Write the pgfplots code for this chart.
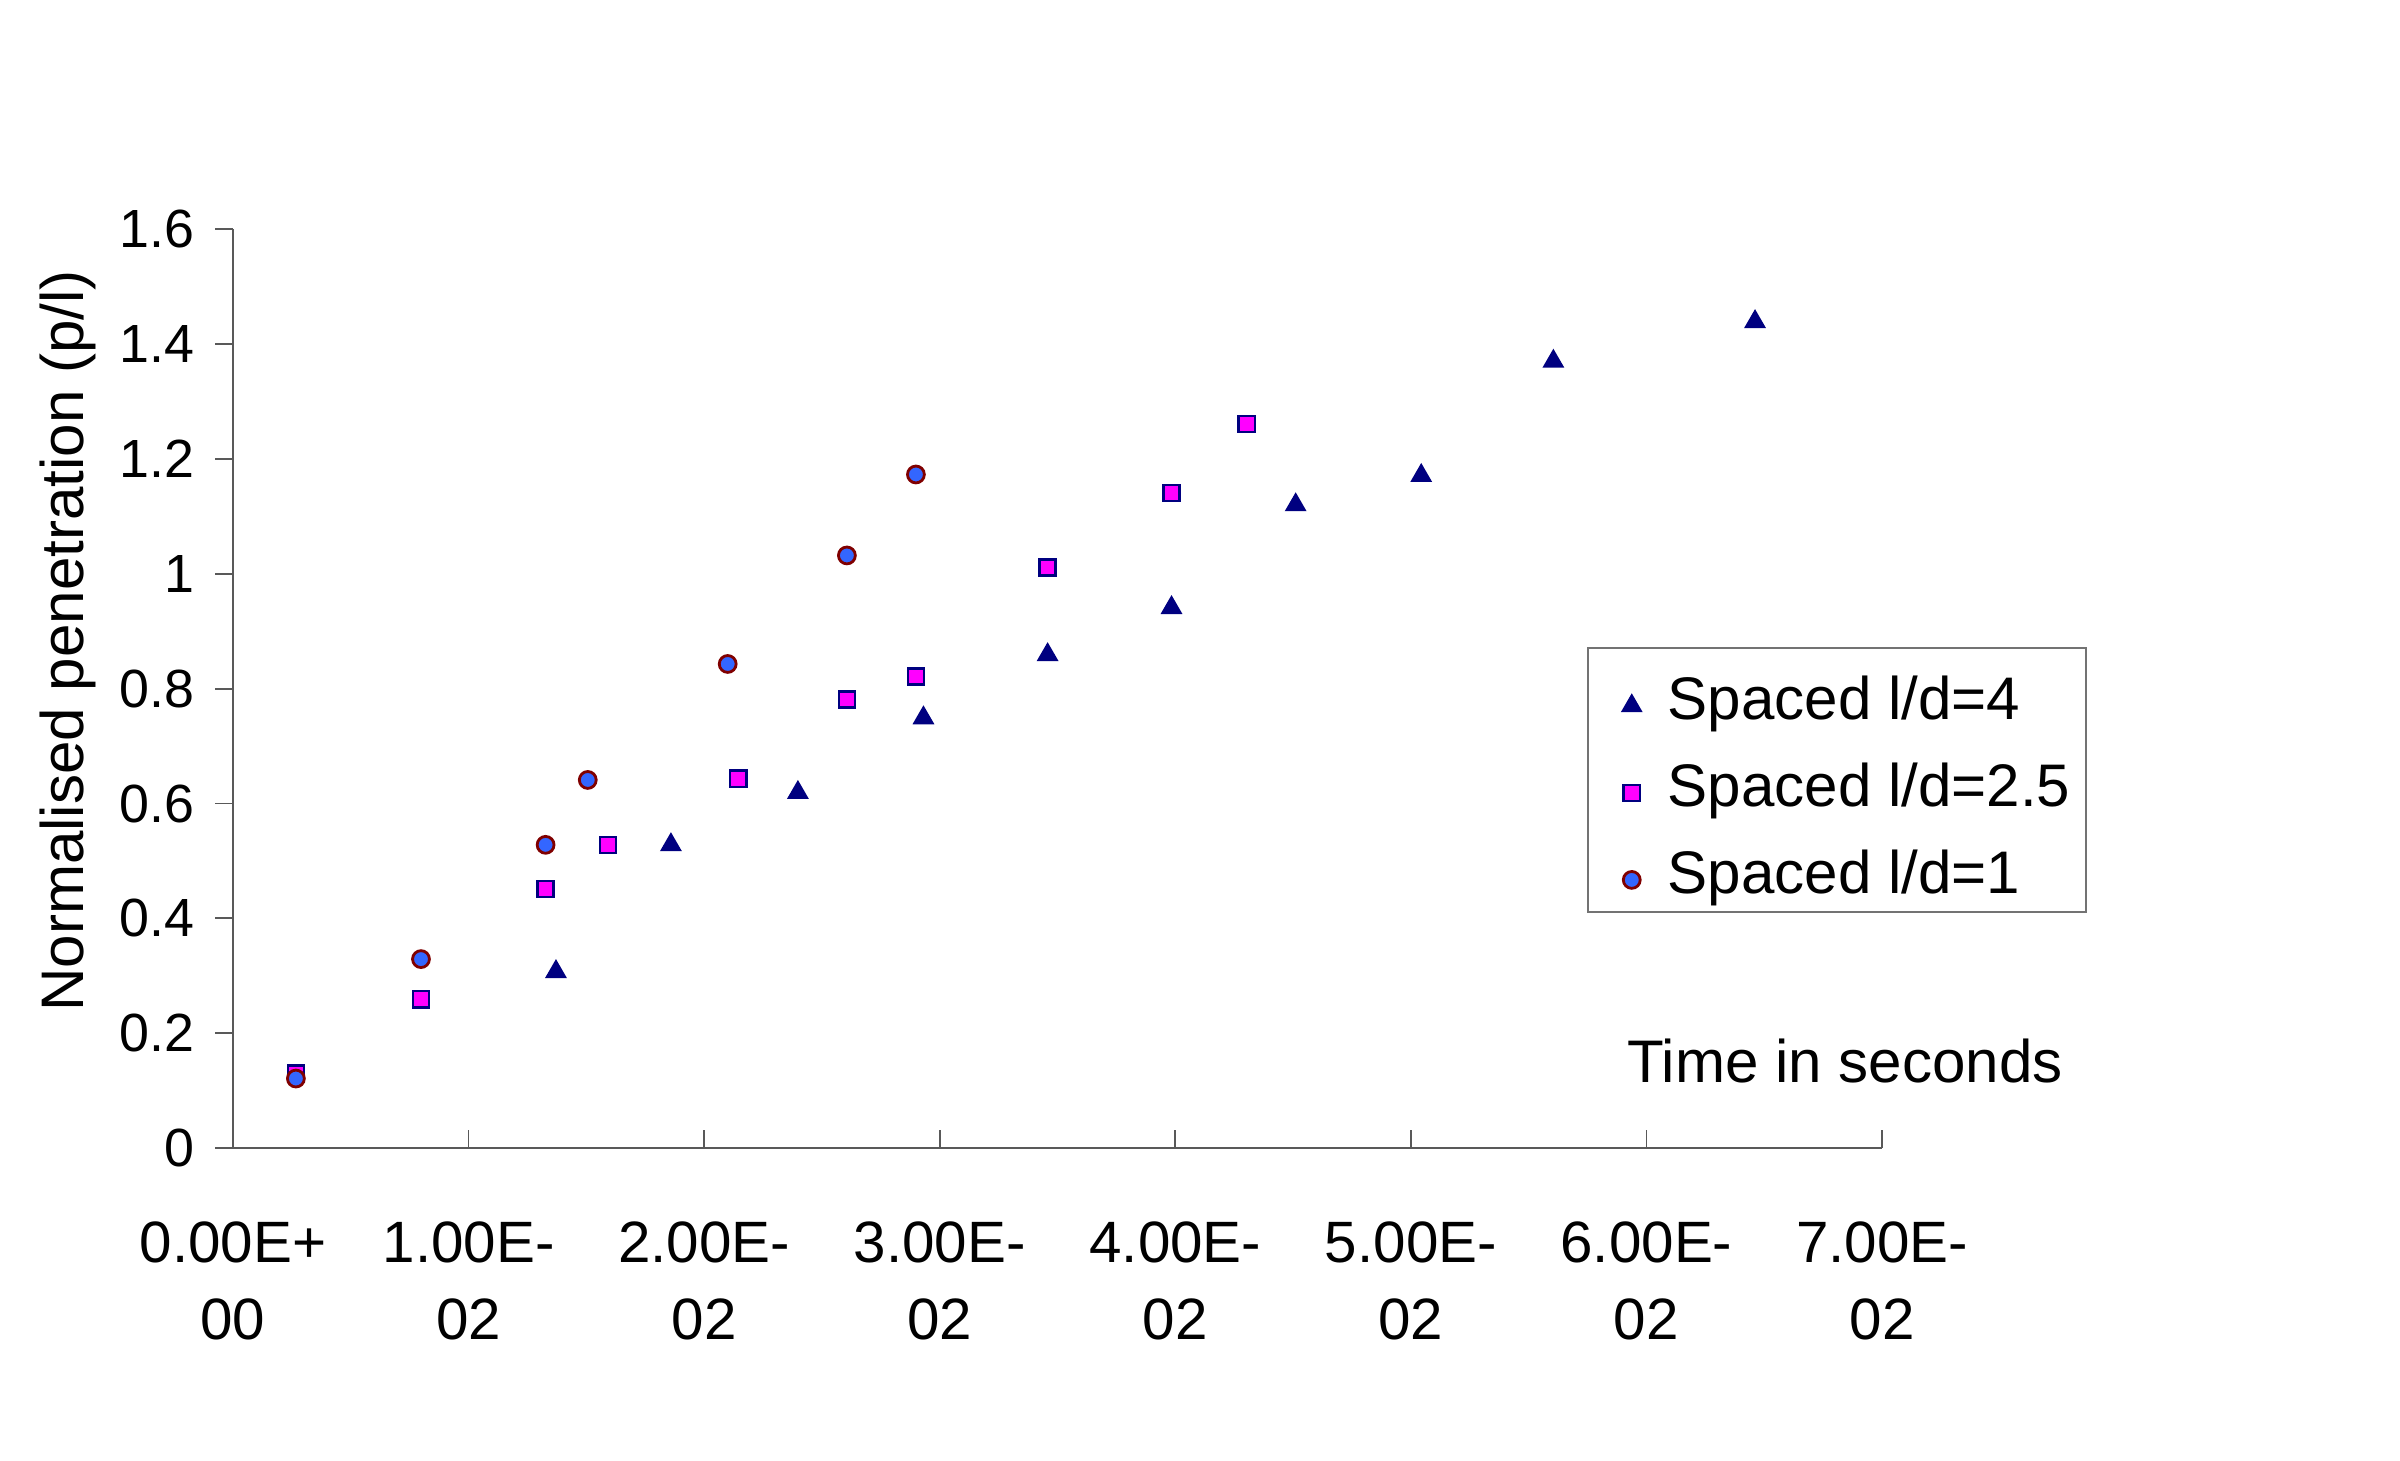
\documentclass[border=0pt]{standalone}
\usepackage{fontspec}
\setmainfont{Liberation Sans}
\usepackage{pgfplots}
\pgfplotsset{compat=1.18}
\definecolor{navy}{RGB}{0,0,128}
\definecolor{mag}{RGB}{255,0,255}
\definecolor{cblue}{RGB}{51,102,255}
\definecolor{maroonc}{RGB}{128,0,0}
\begin{document}
\begin{tikzpicture}
\path[use as bounding box] (0,0) rectangle (24cm,14.6cm);
\begin{axis}[
  at={(2.33cm,3.12cm)}, anchor=south west,
  scale only axis, width=16.49cm, height=9.187cm,
  xmin=0, xmax=0.07, ymin=0, ymax=1.6,
  clip=false,
  scaled x ticks=false, scaled y ticks=false,
  axis lines=left,
  axis line style={-, draw=black!65, line width=0.5pt},
  tick style={draw=black!65, line width=0.5pt},
  tick align=inside, major tick length=0.18cm,
  y tick style={xshift=-0.18cm},
  xtick={0,0.01,0.02,0.03,0.04,0.05,0.06,0.07},
  xticklabels={{0.00E+\\00},{1.00E-\\02},{2.00E-\\02},{3.00E-\\02},{4.00E-\\02},{5.00E-\\02},{6.00E-\\02},{7.00E-\\02}},
  xticklabel style={anchor=north, inner sep=0pt, yshift=-0.73cm, align=center, font=\fontsize{16.6}{21.9}\selectfont},
  ytick={0,0.2,0.4,0.6,0.8,1,1.2,1.4,1.6},
  yticklabels={0,0.2,0.4,0.6,0.8,1,1.2,1.4,1.6},
  yticklabel style={anchor=east, inner sep=0pt, xshift=-0.38cm, font=\fontsize{15.3}{18}\selectfont},
  xlabel={Time in seconds},
  ylabel={Normalised penetration (p/l)},
  every axis x label/.style={at={(axis description cs:0.9775,0.0718)}, anchor=base, font=\fontsize{17.1}{20}\selectfont},
  every axis y label/.style={at={(axis description cs:-0.0904,0.552)}, anchor=base, rotate=90, font=\fontsize{17.1}{20}\selectfont},
  legend cell align=left,
  legend style={at={(axis description cs:0.8211,0.5453)}, anchor=north west,
    draw=black!55, line width=0.5pt, fill=white,
    inner xsep=0.16cm, inner ysep=0.18cm, row sep=0.33cm,
    font=\fontsize{17.1}{20}\selectfont,
    nodes={inner sep=0pt, text height=0.54cm, text depth=0cm}},
  legend image code/.code={\path (-0.27cm,0) (0.35cm,0); \draw[#1] plot coordinates {(0cm,-0.13cm)};},
]
\addplot[only marks, mark=triangle*, mark size=3.2pt, mark options={draw=navy, fill=navy, line width=0.4pt}]
  coordinates {(0.01371,0.307) (0.01859,0.528) (0.02398,0.619) (0.02931,0.749) (0.03458,0.859)
               (0.03984,0.941) (0.04511,1.120) (0.05044,1.171) (0.05605,1.370) (0.06461,1.439)};
\addlegendentry{Spaced l/d=4}
\addplot[only marks, mark=square*, mark size=2.3pt, mark options={draw=navy, fill=mag, line width=0.7pt}]
  coordinates {(0.00267,0.130) (0.00798,0.259) (0.01327,0.451) (0.01592,0.528) (0.02145,0.643)
               (0.02606,0.781) (0.02899,0.821) (0.03458,1.011) (0.03984,1.141) (0.04303,1.261)};
\addlegendentry{Spaced l/d=2.5}
\addplot[only marks, mark=*, mark size=2.4pt, mark options={draw=maroonc, fill=cblue, line width=0.8pt}]
  coordinates {(0.00267,0.121) (0.00798,0.329) (0.01327,0.528) (0.01506,0.641) (0.02100,0.843)
               (0.02606,1.032) (0.02899,1.173)};
\addlegendentry{Spaced l/d=1}
\end{axis}
\end{tikzpicture}
\end{document}
